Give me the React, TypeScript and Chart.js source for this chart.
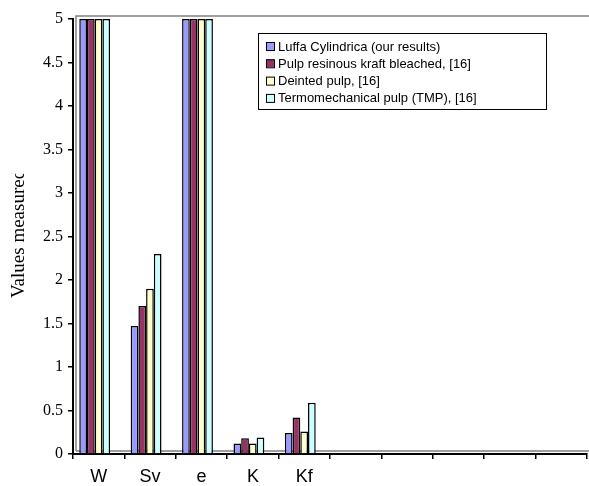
import React, { useEffect, useRef } from "react";
import { Chart, registerables } from "chart.js";

Chart.register(...registerables);

const categories = ["W", "Sv", "e", "K", "Kf", "", "", "", "", ""];
const seriesNames = [
  "Luffa Cylindrica (our results)",
  "Pulp resinous kraft bleached, [16]",
  "Deinted pulp, [16]",
  "Termomechanical pulp (TMP), [16]",
];
const luffa = [5, 1.47, 5, 0.12, 0.24, null, null, null, null, null];
const kraft = [5, 1.7, 5, 0.18, 0.42, null, null, null, null, null];
const deinted = [5, 1.9, 5, 0.12, 0.26, null, null, null, null, null];
const tmp = [5, 2.3, 5, 0.19, 0.59, null, null, null, null, null];
const seriesColors = ["#9999FF", "#993366", "#FFFFCC", "#CCFFFF"];
const yTicks = [0, 0.5, 1, 1.5, 2, 2.5, 3, 3.5, 4, 4.5, 5];
const yTitle = "Values measured";

const decorPlugin = {
  id: "decor",
  afterDatasetsUpdate(chart: any) {
    chart.data.datasets.forEach((_: any, i: number) => {
      const meta = chart.getDatasetMeta(i);
      meta.data.forEach((el: any) => { el.x -= 4; });
    });
  },
  beforeDatasetsDraw(chart: any) {
    const { ctx, chartArea } = chart;
    ctx.save();
    ctx.strokeStyle = "#808080";
    ctx.lineWidth = 1.5;
    ctx.beginPath();
    ctx.moveTo(chartArea.left + 3, chartArea.bottom - 3);
    ctx.lineTo(chartArea.left + 3, chartArea.top - 3);
    ctx.lineTo(chartArea.right + 2, chartArea.top - 3);
    ctx.moveTo(chartArea.left + 3, chartArea.bottom - 3);
    ctx.lineTo(chartArea.right + 2, chartArea.bottom - 3);
    ctx.stroke();
    ctx.restore();
  },
  afterDraw(chart: any) {
    const { ctx } = chart;
    ctx.save();
    // y title
    ctx.font = "19px 'Liberation Serif', 'Times New Roman', serif";
    ctx.fillStyle = "#000";
    const w = ctx.measureText(yTitle).width;
    const cx = 19;
    const bottomY = 298;
    ctx.beginPath();
    ctx.rect(0, bottomY - w + 4, 60, w + 10);
    ctx.clip();
    ctx.translate(cx, bottomY);
    ctx.rotate(-Math.PI / 2);
    ctx.textAlign = "left";
    ctx.textBaseline = "middle";
    ctx.fillText(yTitle, 0, 0);
    ctx.restore();

    // legend
    ctx.save();
    const bx = 258, by = 33, bw = 288, bh = 76;
    ctx.fillStyle = "#fff";
    ctx.fillRect(bx, by, bw, bh);
    ctx.strokeStyle = "#000";
    ctx.lineWidth = 1;
    ctx.strokeRect(bx + 0.5, by + 0.5, bw, bh);
    ctx.font = "13px 'Liberation Sans', Arial, sans-serif";
    ctx.textBaseline = "middle";
    ctx.textAlign = "left";
    chart.data.datasets.forEach((ds: any, i: number) => {
      const yy = by + 13 + i * 17.3;
      ctx.fillStyle = ds.backgroundColor;
      ctx.fillRect(bx + 8, yy - 4, 8, 8);
      ctx.strokeStyle = "#000";
      ctx.strokeRect(bx + 8.5, yy - 3.5, 8, 8);
      ctx.fillStyle = "#000";
      ctx.fillText(ds.label, bx + 20, yy + 1);
    });
    ctx.restore();
  },
};

export default function App() {
  const ref = useRef<HTMLCanvasElement>(null);
  useEffect(() => {
    document.body.style.margin = "0";
    const values = [luffa, kraft, deinted, tmp];
    const chart = new Chart(ref.current!, {
      type: "bar",
      data: {
        labels: categories,
        datasets: values.map((v, i) => ({
          label: seriesNames[i],
          data: v,
          backgroundColor: seriesColors[i],
          borderColor: "#000",
          borderWidth: 1.5,
          categoryPercentage: 0.6,
          barPercentage: 1,
        })),
      },
      options: {
        animation: false,
        responsive: false,
        maintainAspectRatio: false,
        layout: { padding: { top: 19, right: 2, left: 0, bottom: 0 } },
        plugins: { legend: { display: false }, tooltip: { enabled: false } },
        scales: {
          x: {
            offset: true,
            grid: { offset: true, drawOnChartArea: false, tickLength: 5, color: "#000", lineWidth: 1.5 },
            border: { color: "#000", width: 2 },
            ticks: {
              color: "#000",
              font: { family: "'Liberation Sans', Arial, sans-serif", size: 18 },
              padding: 7,
              maxRotation: 0,
              autoSkip: false,
            },
            afterFit: (s: any) => { s.height = 32; },
          },
          y: {
            min: 0,
            max: 5,
            afterBuildTicks: (s: any) => { s.ticks = yTicks.map((v) => ({ value: v })); },
            grid: { drawOnChartArea: false, tickLength: 5, color: "#000", lineWidth: 1.5 },
            border: { color: "#000", width: 2 },
            ticks: {
              color: "#000",
              font: { family: "'Liberation Serif', 'Times New Roman', serif", size: 16 },
              padding: 5,
              callback: (v: any) => String(v),
            },
            afterFit: (s: any) => { s.width = 73; },
          },
        },
      },
      plugins: [decorPlugin],
    });
    return () => chart.destroy();
  }, []);
  return (
    <div style={{ position: "absolute", left: 0, top: 0, width: 589, height: 486 }}>
      <canvas ref={ref} width={589} height={486} style={{ width: 589, height: 486 }} />
    </div>
  );
}
